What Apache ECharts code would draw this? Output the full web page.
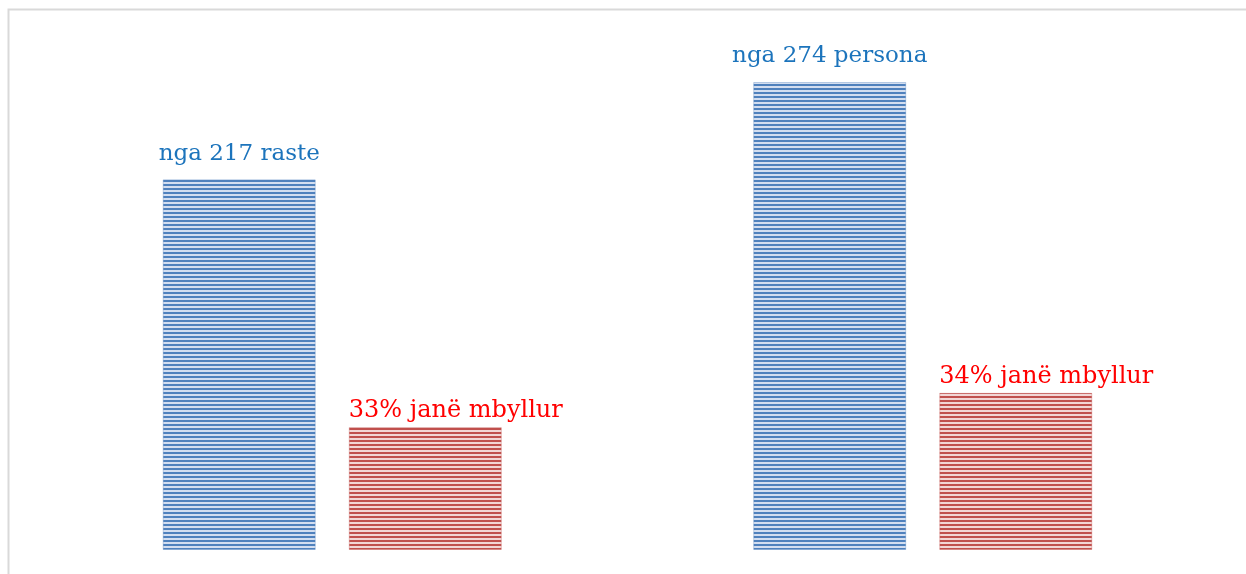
<!DOCTYPE html>
<html>
<head>
<meta charset="utf-8">
<script src="https://cdn.jsdelivr.net/npm/echarts@6/dist/echarts.min.js"></script>
<style>
html,body{margin:0;padding:0;background:#fff;}
#chart{width:1246px;height:574px;}
</style>
</head>
<body>
<div id="chart"></div>
<script>
const categories = ['Rastet', 'Personat'];
const totalValues = [217, 274];
const closedValues = [72, 92];
const totalLabels = ['nga 217 raste', 'nga 274 persona'];
const closedLabels = ['33% janë mbyllur', '34% janë mbyllur'];

function stripe(dark, light) {
  const c = document.createElement('canvas');
  c.width = 4; c.height = 4;
  const g = c.getContext('2d');
  g.fillStyle = light; g.fillRect(0, 0, 4, 4);
  g.fillStyle = dark; g.fillRect(0, 0, 4, 2);
  return { image: c, repeat: 'repeat' };
}
const bluePattern = stripe('#4f81bd', '#d3def0');
const redPattern = stripe('#c0504d', '#f2d6d5');

const chart = echarts.init(document.getElementById('chart'));
chart.setOption({
  animation: false,
  backgroundColor: '#fff',
  graphic: [{
    type: 'rect',
    shape: { x: 8.5, y: 9.5, width: 1400, height: 700 },
    style: { fill: 'none', stroke: '#d9d9d9', lineWidth: 2 },
    silent: true
  }],
  grid: { left: 37, right: 28, top: 37.6, bottom: 24 },
  xAxis: {
    type: 'category', data: categories,
    axisLine: { show: false }, axisTick: { show: false }, axisLabel: { show: false }
  },
  yAxis: {
    type: 'value', min: 0, max: 300,
    show: false, splitLine: { show: false }
  },
  series: [{
    type: 'bar',
    data: totalValues,
    barWidth: 153,
    barGap: '21.6%',
    itemStyle: { color: bluePattern, borderColor: 'rgba(79,129,189,0.35)', borderWidth: 1 },
    label: {
      show: true, position: 'top', distance: 14,
      formatter: p => totalLabels[p.dataIndex],
      color: '#1c74bc', fontFamily: 'DejaVu Serif', fontSize: 23
    }
  }, {
    type: 'bar',
    data: closedValues,
    barWidth: 153,
    itemStyle: { color: redPattern, borderColor: 'rgba(192,80,77,0.35)', borderWidth: 1 },
    label: {
      show: true, position: [0, -4], align: 'left', verticalAlign: 'bottom',
      formatter: p => closedLabels[p.dataIndex],
      color: '#ff0000', fontFamily: 'DejaVu Serif', fontSize: 24
    }
  }]
});
</script>
</body>
</html>
